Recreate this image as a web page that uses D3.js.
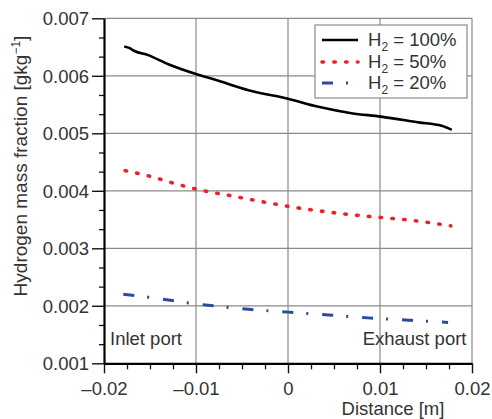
<!DOCTYPE html>
<html>
<head>
<meta charset="utf-8">
<script src="https://cdn.jsdelivr.net/npm/d3@7"></script>
<style>
  html, body { margin: 0; padding: 0; background: #fff; }
  svg { display: block; font-family: "Liberation Sans", Arial, sans-serif; }
</style>
</head>
<body>
<svg id="chart" width="492" height="419"></svg>
<script>
// ---- data ----
const xTicks = [-0.02, -0.01, 0, 0.01, 0.02];
const xTickLabels = ["–0.02", "–0.01", "0", "0.01", "0.02"];
const yTicks = [0.001, 0.002, 0.003, 0.004, 0.005, 0.006, 0.007];
const yTickLabels = ["0.001", "0.002", "0.003", "0.004", "0.005", "0.006", "0.007"];

const seriesNames = ["100%", "50%", "20%"];

const h100X = [-0.0178, -0.0172, -0.0168, -0.0152, -0.0130, -0.0100, -0.0079, -0.0043, 0.0000, 0.0033, 0.0069, 0.0101, 0.0142, 0.0167, 0.0178];
const h100Y = [0.00651, 0.00648, 0.00644, 0.00636, 0.00620, 0.00603, 0.00593, 0.00575, 0.00560, 0.00546, 0.00535, 0.00529, 0.00519, 0.00513, 0.00506];

const h50X = [-0.0177, -0.0152, -0.0126, -0.0100, -0.0061, -0.0021, 0.0004, 0.0044, 0.0084, 0.0098, 0.0138, 0.0177];
const h50Y = [0.00435, 0.00426, 0.00414, 0.00403, 0.00391, 0.00379, 0.00372, 0.00363, 0.00356, 0.00354, 0.00348, 0.00339];

const h20X = [-0.0179, -0.0152, -0.0130, -0.0108, -0.0087, -0.0043, 0.0000, 0.0044, 0.0087, 0.0131, 0.0174];
const h20Y = [0.00220, 0.00215, 0.00210, 0.00205, 0.00201, 0.00194, 0.00189, 0.00184, 0.00179, 0.00175, 0.00171];

// ---- layout ----
const svg = d3.select("#chart");
const pLeft = 104, pRight = 472, pTop = 18.3, pBottom = 363.3;
const FS = 18.5;

const x = d3.scaleLinear().domain([-0.02, 0.02]).range([pLeft, pRight]);
const y = d3.scaleLinear().domain([0.001, 0.007]).range([pBottom, pTop]);

// gridlines
const grid = svg.append("g").attr("stroke", "#8a8a8a").attr("stroke-width", 1.2);
grid.selectAll("line.v").data(xTicks.slice(1)).join("line")
  .attr("x1", d => x(d)).attr("x2", d => x(d)).attr("y1", pTop).attr("y2", pBottom);
grid.selectAll("line.h").data(yTicks.slice(1)).join("line")
  .attr("y1", d => y(d)).attr("y2", d => y(d)).attr("x1", pLeft).attr("x2", pRight);

// minor ticks
const xMinor = d3.range(-0.02, 0.02001, 0.0025).filter(v => !xTicks.some(t => Math.abs(t - v) < 1e-9));
const yMinor = [];
for (let i = 0; i < yTicks.length - 1; i++) {
  const a = yTicks[i], step = (yTicks[i+1] - a) / 3;
  yMinor.push(a + step, a + 2 * step);
}

const xAxisMinor = svg.append("g").attr("transform", `translate(0,${pBottom})`)
  .call(d3.axisBottom(x).tickValues(xMinor).tickSize(6).tickFormat(""));
const yAxisMinor = svg.append("g").attr("transform", `translate(${pLeft},0)`)
  .call(d3.axisLeft(y).tickValues(yMinor).tickSize(5).tickFormat(""));
[xAxisMinor, yAxisMinor].forEach(g => {
  g.select(".domain").remove();
  g.selectAll("line").attr("stroke", "#111").attr("stroke-width", 1.3);
});

// major axes
const xAxis = svg.append("g").attr("transform", `translate(0,${pBottom})`)
  .call(d3.axisBottom(x).tickValues(xTicks).tickSize(10).tickSizeOuter(0).tickPadding(9)
    .tickFormat((d, i) => xTickLabels[i]));
const yAxis = svg.append("g").attr("transform", `translate(${pLeft},0)`)
  .call(d3.axisLeft(y).tickValues(yTicks).tickSize(12).tickSizeOuter(0).tickPadding(3)
    .tickFormat((d, i) => yTickLabels[i]));
[xAxis, yAxis].forEach(g => {
  g.select(".domain").attr("stroke", "#000").attr("stroke-width", 2.2);
  g.selectAll(".tick line").attr("stroke", "#111").attr("stroke-width", 1.4);
  g.selectAll(".tick text").attr("fill", "#333").style("font-size", FS + "px")
    .style("font-family", "'Liberation Sans', Arial, sans-serif");
});
yAxis.selectAll(".tick text").attr("dy", "0.35em");

// data lines
const line = d3.line().x(d => x(d[0])).y(d => y(d[1])).curve(d3.curveMonotoneX);
const zip = (a, b) => a.map((v, i) => [v, b[i]]);

const styles = [
  { data: zip(h100X, h100Y), color: "#000000", width: 2.6, dash: null, cap: "butt" },
  { data: zip(h50X, h50Y), color: "#e8242a", width: 3.6, dash: "1.5,10.3", cap: "round" },
  { data: zip(h20X, h20Y), color: "#2c4a9c", width: 3, dash: "11,13,2,14", cap: "butt" }
];

const plot = svg.append("g");
styles.forEach(s => {
  plot.append("path").datum(s.data)
    .attr("d", line)
    .attr("fill", "none")
    .attr("stroke", s.color)
    .attr("stroke-width", s.width)
    .attr("stroke-linecap", s.cap)
    .attr("stroke-dasharray", s.dash);
});

// annotations
svg.append("text").attr("x", 110).attr("y", 345).attr("fill", "#333")
  .style("font-size", FS + "px").text("Inlet port");
svg.append("text").attr("x", 466.5).attr("y", 345).attr("fill", "#333")
  .attr("text-anchor", "end").style("font-size", FS + "px").text("Exhaust port");

// axis titles
svg.append("text").attr("x", 393).attr("y", 415).attr("text-anchor", "middle")
  .attr("fill", "#333").style("font-size", FS + "px").text("Distance [m]");

const yt = svg.append("text").attr("transform", "translate(27,166) rotate(-90)")
  .attr("text-anchor", "middle").attr("fill", "#333").style("font-size", "19px");
yt.append("tspan").text("Hydrogen mass fraction [gkg");
yt.append("tspan").attr("dy", -7).style("font-size", "12px").text("−1");
yt.append("tspan").attr("dy", 7).text("]");

// legend
const lg = svg.append("g");
lg.append("rect").attr("x", 315).attr("y", 25).attr("width", 152).attr("height", 73)
  .attr("fill", "#fff").attr("stroke", "#8a8a8a").attr("stroke-width", 1.2);
const rowY = [40, 62, 83];
styles.forEach((s, i) => {
  lg.append("line").attr("x1", 322).attr("x2", 358).attr("y1", rowY[i]).attr("y2", rowY[i])
    .attr("stroke", s.color).attr("stroke-width", s.width)
    .attr("stroke-linecap", s.cap).attr("stroke-dasharray", s.dash);
  const t = lg.append("text").attr("x", 368).attr("y", rowY[i] + 5.5)
    .attr("fill", "#333").style("font-size", FS + "px");
  t.append("tspan").text("H");
  t.append("tspan").attr("dy", 5).style("font-size", "12px").text("2");
  t.append("tspan").attr("dy", -5).text(" = " + seriesNames[i]);
});
</script>
</body>
</html>
